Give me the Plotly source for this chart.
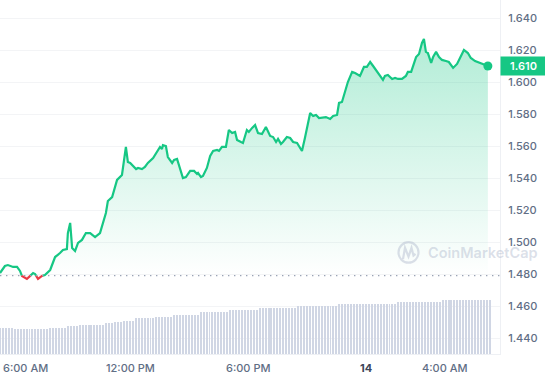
import numpy as np
import pandas as pd
import plotly.graph_objects as go

BASE_DAY = pd.Timestamp("2024-03-13 00:00")
OPEN_PRICE = 1.4790
LAST_PRICE = 1.610

# minutes since midnight of the 13th
minutes = [323, 338, 347, 363, 375, 384, 390, 405, 415, 424, 430, 439, 451, 460, 476, 491, 506, 515, 527, 530,
           537, 540, 543, 552, 561, 573, 585, 598, 613, 628, 637, 646, 652, 665, 680, 689, 695, 707, 713, 720,
           729, 738, 744, 756, 765, 774, 790, 802, 811, 817, 820, 829, 835, 848, 854, 863, 869, 875, 881, 890,
           903, 915, 924, 927, 936, 942, 954, 964, 973, 985, 991, 1000, 1012, 1021, 1031, 1040, 1046, 1058, 1064, 1076,
           1082, 1092, 1101, 1110, 1122, 1134, 1147, 1156, 1165, 1171, 1180, 1186, 1198, 1208, 1217, 1229, 1235, 1244, 1253, 1259,
           1269, 1278, 1287, 1296, 1308, 1317, 1330, 1339, 1351, 1357, 1366, 1375, 1384, 1397, 1406, 1421, 1433, 1442, 1452, 1461,
           1476, 1491, 1497, 1506, 1519, 1528, 1537, 1549, 1561, 1567, 1577, 1583, 1592, 1601, 1610, 1616, 1622, 1628, 1638, 1644,
           1653, 1662, 1671, 1683, 1692, 1705, 1717, 1726, 1738, 1750, 1759, 1772, 1787, 1802, 1811]

prices = [1.4806, 1.4850, 1.4856, 1.4844, 1.4844, 1.4819, 1.4788, 1.4769, 1.4788, 1.4806, 1.4800, 1.4769, 1.4788, 1.4794, 1.4825, 1.4906, 1.4931, 1.4950, 1.4956, 1.5056,
          1.5119, 1.5031, 1.4963, 1.4944, 1.4994, 1.5013, 1.5056, 1.5056, 1.5031, 1.5056, 1.5119, 1.5181, 1.5256, 1.5281, 1.5388, 1.5406, 1.5419, 1.5594, 1.5500, 1.5494,
          1.5475, 1.5456, 1.5463, 1.5456, 1.5469, 1.5494, 1.5525, 1.5569, 1.5594, 1.5581, 1.5606, 1.5600, 1.5531, 1.5494, 1.5513, 1.5519, 1.5481, 1.5438, 1.5400, 1.5406,
          1.5444, 1.5444, 1.5425, 1.5431, 1.5406, 1.5413, 1.5463, 1.5538, 1.5569, 1.5575, 1.5569, 1.5594, 1.5594, 1.5700, 1.5681, 1.5688, 1.5638, 1.5625, 1.5619, 1.5700,
          1.5688, 1.5713, 1.5731, 1.5681, 1.5675, 1.5719, 1.5663, 1.5656, 1.5625, 1.5644, 1.5613, 1.5625, 1.5656, 1.5650, 1.5625, 1.5619, 1.5600, 1.5569, 1.5650, 1.5713,
          1.5806, 1.5788, 1.5794, 1.5775, 1.5781, 1.5781, 1.5769, 1.5788, 1.5794, 1.5869, 1.5875, 1.5931, 1.6000, 1.6063, 1.6056, 1.6038, 1.6094, 1.6094, 1.6125, 1.6100,
          1.6056, 1.6013, 1.6038, 1.6044, 1.6019, 1.6025, 1.6019, 1.6019, 1.6038, 1.6063, 1.6063, 1.6106, 1.6156, 1.6175, 1.6244, 1.6269, 1.6188, 1.6181, 1.6119, 1.6156,
          1.6188, 1.6156, 1.6138, 1.6131, 1.6125, 1.6088, 1.6113, 1.6150, 1.6200, 1.6181, 1.6150, 1.6131, 1.6119, 1.6106, 1.6100]

# volume bars (millions), one every 9 minutes from the first point
volume = [44, 44, 44, 44, 44, 42, 42, 42, 42, 42, 42, 42, 42, 42, 42, 42, 42, 44, 44, 44,
          44, 44, 44, 47, 47, 47, 47, 49, 49, 49, 49, 49, 49, 49, 49, 49, 52, 52, 52, 54,
          54, 54, 56, 56, 56, 56, 61, 61, 61, 61, 61, 61, 61, 63, 63, 63, 63, 63, 63, 66,
          66, 66, 66, 66, 66, 66, 66, 66, 71, 71, 71, 71, 71, 71, 71, 71, 71, 71, 74, 74,
          74, 74, 74, 74, 74, 74, 74, 74, 78, 78, 78, 78, 78, 78, 78, 78, 78, 78, 78, 78,
          78, 81, 81, 81, 81, 81, 81, 81, 81, 81, 81, 81, 81, 81, 81, 85, 85, 85, 85, 85,
          85, 85, 85, 85, 85, 85, 85, 85, 85, 85, 85, 85, 85, 85, 85, 88, 88, 88, 88, 88,
          88, 88, 88, 88, 88, 88, 88, 88, 88, 88, 91, 91, 91, 91, 91, 91, 91, 91, 91, 91,
          91, 91, 91, 91, 91, 91, 91]
VOLUME_STEP_MIN = 9

y_ticks = [1.44, 1.46, 1.48, 1.50, 1.52, 1.54, 1.56, 1.58, 1.60, 1.62, 1.64]
x_tick_minutes = [360, 720, 1080, 1440, 1680]
x_tick_text = ["6:00 AM", "12:00 PM", "6:00 PM", "<b>14</b>", "4:00 AM"]

GREEN = "#16c784"
RED = "#ea3943"
LABEL = "#616e85"

def ts(m):
    return BASE_DAY + pd.to_timedelta(m, unit="min")

# split line at the open price
xs, ys = [], []
for i, (m, p) in enumerate(zip(minutes, prices)):
    if i > 0 and (prices[i - 1] - OPEN_PRICE) * (p - OPEN_PRICE) < 0:
        f = (OPEN_PRICE - prices[i - 1]) / (p - prices[i - 1])
        xs.append(minutes[i - 1] + f * (m - minutes[i - 1]))
        ys.append(OPEN_PRICE)
    xs.append(m)
    ys.append(p)
xt = [ts(v) for v in xs]
green_y = [v if v >= OPEN_PRICE else None for v in ys]
red_y = [v if v <= OPEN_PRICE else None for v in ys]
top_y = [max(v, OPEN_PRICE) for v in ys]
bot_y = [min(v, OPEN_PRICE) for v in ys]

vol_t = [ts(minutes[0] + VOLUME_STEP_MIN * i) for i in range(len(volume))]

fig = go.Figure()
fig.add_trace(go.Bar(x=vol_t, y=volume, yaxis="y2", marker=dict(color="rgba(207,214,228,0.99)", line=dict(width=0)),
                     width=6 * 60 * 1000, hoverinfo="skip"))
fig.add_trace(go.Scatter(x=xt, y=[OPEN_PRICE] * len(xt), mode="lines", line=dict(width=0), hoverinfo="skip"))
fig.add_trace(go.Scatter(x=xt, y=top_y, mode="lines", line=dict(width=0), fill="tonexty",
                         fillgradient=dict(type="vertical", start=OPEN_PRICE, stop=max(prices),
                                           colorscale=[[0, "rgba(22,199,132,0.0)"], [1, "rgba(22,199,132,0.33)"]]),
                         hoverinfo="skip"))
fig.add_trace(go.Scatter(x=xt, y=[OPEN_PRICE] * len(xt), mode="lines", line=dict(width=0), hoverinfo="skip"))
fig.add_trace(go.Scatter(x=xt, y=bot_y, mode="lines", line=dict(width=0), fill="tonexty",
                         fillcolor="rgba(234,57,67,0.08)", hoverinfo="skip"))
fig.add_trace(go.Scatter(x=xt, y=green_y, mode="lines", line=dict(color=GREEN, width=2.2), connectgaps=False,
                         hoverinfo="skip"))
fig.add_trace(go.Scatter(x=xt, y=red_y, mode="lines", line=dict(color=RED, width=2.2), connectgaps=False,
                         hoverinfo="skip"))
fig.add_trace(go.Scatter(x=[ts(minutes[-1])], y=[prices[-1]], mode="markers",
                         marker=dict(color=GREEN, size=9), hoverinfo="skip"))

fig.add_shape(type="line", xref="paper", x0=0, x1=1, yref="y", y0=OPEN_PRICE, y1=OPEN_PRICE,
              line=dict(color="#9aa3b5", width=1.4, dash="1.4px,4.6px"))

# watermark
WM = "rgba(175,185,205,0.45)"
fig.add_shape(type="circle", xref="paper", yref="paper", x0=0.797, x1=0.837, y0=0.258, y1=0.316,
              line=dict(color=WM, width=2.2))
fig.add_shape(type="path", xref="paper", yref="paper",
              path="M 0.806,0.268 L 0.810,0.300 L 0.817,0.275 L 0.823,0.300 L 0.827,0.278 L 0.831,0.283",
              line=dict(color=WM, width=2.2))
fig.add_annotation(text="CoinMarketCap", xref="paper", yref="paper", x=0.852, y=0.287, xanchor="left",
                   yanchor="middle", showarrow=False,
                   font=dict(family="Inter", size=14.5, weight=600, color=WM))

# price tag
fig.add_annotation(text=f"{LAST_PRICE:.3f}", xref="paper", yref="y", x=1, y=LAST_PRICE, xanchor="left",
                   yanchor="middle", showarrow=False, bgcolor=GREEN, width=45, height=18, borderpad=0,
                   font=dict(family="Inter", size=11, weight=600, color="white"))

# x labels
for i, (m, txt) in enumerate(zip(x_tick_minutes, x_tick_text)):
    first = i == 0
    fig.add_annotation(text=txt, xref="x", yref="paper",
                       x=ts(minutes[0]) if first else ts(m), y=0, yshift=-14,
                       xanchor="left" if first else "center", xshift=1 if first else 0,
                       yanchor="middle", showarrow=False,
                       font=dict(family="Inter", size=11, weight=500,
                                 color="#3d475a" if "14" in txt else LABEL))

fig.update_layout(
    width=545, height=380, margin=dict(l=0, r=45, t=0, b=26),
    paper_bgcolor="white", plot_bgcolor="white", showlegend=False, bargap=0, hovermode=False,
    xaxis=dict(type="date", range=[ts(323), ts(1848)], showgrid=False, showticklabels=False,
               showline=True, linecolor="#eef0f4", linewidth=1, zeroline=False, ticks=""),
    yaxis=dict(side="right", range=[1.43, 1.65125], tickvals=y_ticks,
               ticktext=[f"{v:.3f}" for v in y_ticks], showgrid=True, gridcolor="#f3f4f6",
               gridwidth=1, zeroline=False, showline=True, linecolor="#eef0f4", linewidth=1,
               ticks="", ticklabelstandoff=5,
               tickfont=dict(family="Inter", size=11, weight=500, color=LABEL)),
    yaxis2=dict(overlaying="y", range=[0, 600], visible=False, fixedrange=True),
    font=dict(family="Inter"),
)

fig.write_html("out.html", config={"displayModeBar": False},
               post_script="document.body.style.margin='0px';")
